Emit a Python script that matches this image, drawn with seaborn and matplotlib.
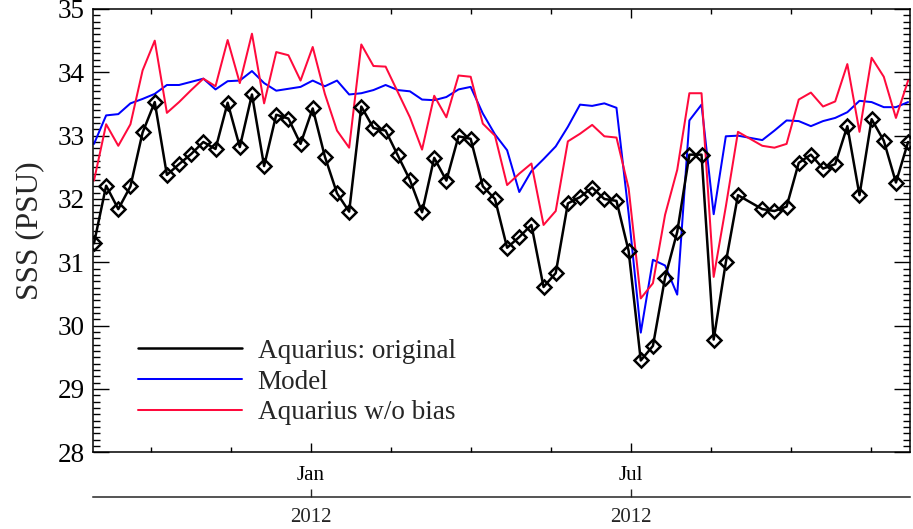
import numpy as np
import pandas as pd
import matplotlib
matplotlib.use("Agg")
import matplotlib.pyplot as plt
import matplotlib.dates as mdates
from matplotlib.lines import Line2D
from matplotlib.ticker import MultipleLocator
import seaborn as sns

# ---------------- data ----------------
start_date = "2011-08-29"
n_weeks = 68
missing_week = 54  # 0-based index of the week with no data

aquarius_original = [
    31.30, 32.21, 31.84, 32.20, 33.05, 33.53, 32.38, 32.55, 32.71, 32.90,
    32.79, 33.52, 32.82, 33.65, 32.52, 33.33, 33.27, 32.87, 33.43, 32.67,
    32.09, 31.80, 33.46, 33.12, 33.08, 32.69, 32.30, 31.79, 32.65, 32.29,
    32.99, 32.95, 32.20, 32.00, 31.23, 31.40, 31.59, 30.61, 30.83, 31.93,
    32.03, 32.18, 32.00, 31.97, 31.18, 29.45, 29.68, 30.76, 31.48, 32.70,
    32.70, 29.78, 31.00, 32.06, np.nan, 31.84, 31.81, 31.88, 32.57, 32.70,
    32.48, 32.55, 33.15, 32.06, 33.26, 32.92, 32.26, 32.90,
]
model = [
    32.87, 33.32, 33.34, 33.51, 33.58, 33.66, 33.80, 33.80, 33.85, 33.90,
    33.73, 33.86, 33.87, 34.02, 33.83, 33.71, 33.74, 33.77, 33.87, 33.78,
    33.87, 33.65, 33.67, 33.72, 33.80, 33.72, 33.70, 33.57, 33.56, 33.61,
    33.73, 33.77, 33.35, 33.02, 32.77, 32.11, 32.44, 32.63, 32.83, 33.14,
    33.49, 33.47, 33.51, 33.44, 31.77, 29.89, 31.04, 30.95, 30.49, 33.24,
    33.49, 31.76, 32.99, 33.00, np.nan, 32.93, 33.08, 33.24, 33.23, 33.15,
    33.23, 33.28, 33.37, 33.55, 33.53, 33.45, 33.45, 33.53,
]
aquarius_no_bias = [
    32.29, 33.18, 32.84, 33.18, 34.03, 34.50, 33.36, 33.53, 33.72, 33.90,
    33.78, 34.51, 33.83, 34.61, 33.51, 34.32, 34.27, 33.87, 34.40, 33.66,
    33.08, 32.81, 34.44, 34.10, 34.09, 33.69, 33.29, 32.78, 33.63, 33.29,
    33.95, 33.93, 33.19, 33.00, 32.22, 32.40, 32.56, 31.59, 31.81, 32.91,
    33.03, 33.17, 32.99, 32.97, 32.17, 30.43, 30.67, 31.75, 32.46, 33.67,
    33.67, 30.77, 31.88, 33.06, np.nan, 32.84, 32.81, 32.87, 33.57, 33.68,
    33.46, 33.54, 34.13, 33.06, 34.23, 33.93, 33.28, 33.87,
]
series_names = ["Aquarius: original", "Model", "Aquarius w/o bias"]
series_colors = ["#000000", "#0000FF", "#FF0A3C"]
month_labels = ["Jan", "Jul"]
year_labels = ["2012", "2012"]
y_min, y_max = 28, 35

# ---------------- frame ----------------
dates = pd.date_range(start_date, periods=n_weeks, freq="7D")
x = mdates.date2num(dates)
df = pd.DataFrame({
    "date": x,
    series_names[0]: aquarius_original,
    series_names[1]: model,
    series_names[2]: aquarius_no_bias,
})
long = df.melt(id_vars="date", var_name="series", value_name="sss").dropna()

sns.set_style("ticks")
plt.rcParams["font.family"] = ["Liberation Serif", "DejaVu Serif"]

fig = plt.figure(figsize=(9.13, 5.29), dpi=100)
ax = fig.add_axes([0.10219, 0.14499, 0.89452, 0.83800])

# blue and red first, black with diamonds on top
sns.lineplot(data=long[long.series == series_names[1]], x="date", y="sss",
             color=series_colors[1], lw=1.45, ax=ax)
sns.lineplot(data=long[long.series == series_names[2]], x="date", y="sss",
             color=series_colors[2], lw=1.45, ax=ax)
sns.lineplot(data=long[long.series == series_names[0]], x="date", y="sss",
             color=series_colors[0], lw=1.8, marker="D", markersize=7,
             markerfacecolor="none", markeredgecolor="black",
             markeredgewidth=1.8, ax=ax)

start_num = x[0]
ax.set_xlim(start_num - 0.4, start_num + 470.1)
ax.set_ylim(y_min, y_max)

# y axis
ax.yaxis.set_major_locator(MultipleLocator(1))
ax.yaxis.set_minor_locator(MultipleLocator(0.1))
ax.tick_params(axis="y", which="both", direction="in", left=True, right=True,
               width=1.0, colors="black")
ax.tick_params(axis="y", which="major", length=11.5, labelsize=19.5, pad=6)
ax.tick_params(axis="y", which="minor", length=5)

# x axis
jan = mdates.date2num(pd.Timestamp("2012-01-01"))
step = 46.1
majors = [jan, jan + 4 * step]
minors = [jan + k * step for k in (-2, -1, 1, 2, 3, 5, 6, 7)]
ax.set_xticks(majors, month_labels)
ax.set_xticks(minors, minor=True)
ax.tick_params(axis="x", which="both", direction="in", top=True, bottom=True,
               width=1.0, colors="black")
ax.tick_params(axis="x", which="major", length=6.5, labelsize=15, pad=10)
ax.tick_params(axis="x", which="minor", length=3.3)

for s in ax.spines.values():
    s.set_visible(True)
    s.set_linewidth(1.1)
    s.set_color("black")

ax.set_xlabel("")
ax.set_ylabel("SSS (PSU)", fontsize=22.5, labelpad=10)

# secondary year axis
sec = ax.secondary_xaxis(-0.1015)
sec.set_xticks(majors, year_labels)
sec.tick_params(axis="x", direction="in", length=6, width=1.0, labelsize=15, pad=8)
sec.spines["bottom"].set_linewidth(1.1)

handles = [Line2D([], [], color=c, lw=lw) for c, lw in zip(series_colors, [1.8, 1.45, 1.45])]
ax.legend(handles, series_names, loc="upper left", bbox_to_anchor=(0.0547, 0.256),
          frameon=False, fontsize=19.5, handlelength=3.85, handletextpad=0.57,
          labelspacing=0.21, borderpad=0, borderaxespad=0)

fig.savefig("out.png", dpi=100)
